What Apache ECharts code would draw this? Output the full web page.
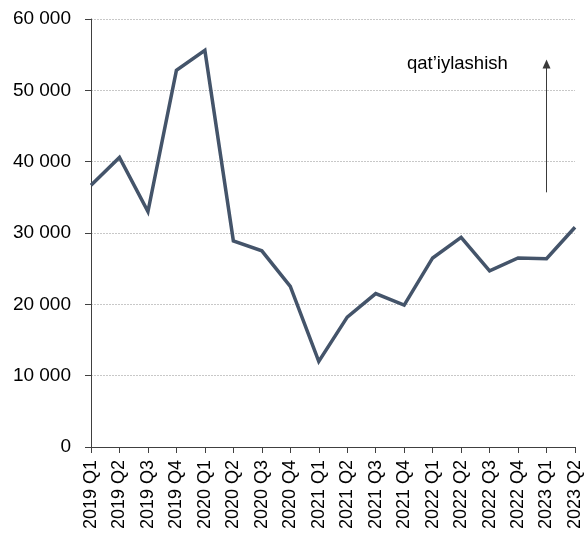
<!DOCTYPE html>
<html>
<head>
<meta charset="utf-8">
<script src="https://cdn.jsdelivr.net/npm/echarts@6/dist/echarts.min.js"></script>
<style>
  html, body { margin: 0; padding: 0; background: #ffffff; }
  #chart { width: 585px; height: 534px; }
</style>
</head>
<body>
<div id="chart"></div>
<script>
// Quarterly series, 2019 Q1 – 2023 Q2
const quarters = [
  '2019 Q1', '2019 Q2', '2019 Q3', '2019 Q4',
  '2020 Q1', '2020 Q2', '2020 Q3', '2020 Q4',
  '2021 Q1', '2021 Q2', '2021 Q3', '2021 Q4',
  '2022 Q1', '2022 Q2', '2022 Q3', '2022 Q4',
  '2023 Q1', '2023 Q2'
];
const values = [
  36700, 40600, 33000, 52800,
  55600, 28900, 27500, 22500,
  12000, 18200, 21500, 19900,
  26500, 29400, 24700, 26500,
  26400, 30800
];
const yTicks = { min: 0, max: 60000, step: 10000 };
const arrowNote = { label: 'qat’iylashish', at: '2023 Q1', from: 35700, to: 53700 };

const fontFamily = '"Liberation Sans", Arial, sans-serif';

function groupThousands(v) {
  return String(v).replace(/\B(?=(\d{3})+(?!\d))/g, ' ');
}

const chart = echarts.init(document.getElementById('chart'), null, { renderer: 'canvas' });

chart.setOption({
  animation: false,
  backgroundColor: '#ffffff',
  grid: { left: 91, right: 10, top: 19, bottom: 87, containLabel: false },
  xAxis: {
    type: 'category',
    data: quarters,
    boundaryGap: false,
    axisLine: { lineStyle: { color: '#404040', width: 1 } },
    axisTick: { show: true, alignWithLabel: true, length: 6, lineStyle: { color: '#404040' } },
    axisLabel: {
      rotate: 90,
      interval: 0,
      margin: 13,
      color: '#000000',
      fontSize: 18,
      fontFamily: fontFamily
    },
    splitLine: { show: false }
  },
  yAxis: {
    type: 'value',
    min: yTicks.min,
    max: yTicks.max,
    interval: yTicks.step,
    axisLine: { show: true, lineStyle: { color: '#404040', width: 1 } },
    axisTick: { show: true, length: 6, lineStyle: { color: '#404040' } },
    axisLabel: {
      margin: 20,
      color: '#000000',
      fontSize: 19,
      fontFamily: fontFamily,
      formatter: groupThousands
    },
    splitLine: { show: true, lineStyle: { color: '#c8c8c8', width: 1, type: [2, 1] } }
  },
  series: [
    {
      type: 'line',
      data: values,
      symbol: 'none',
      lineStyle: { color: '#44546a', width: 3.5, join: 'miter' },
      markLine: {
        silent: true,
        symbol: ['none', 'triangle'],
        symbolSize: [8, 9],
        lineStyle: { color: '#3a3a3a', width: 1, type: 'solid' },
        label: { show: false },
        data: [[
          { coord: [arrowNote.at, arrowNote.from] },
          { coord: [arrowNote.at, arrowNote.to] }
        ]]
      }
    }
  ],
  graphic: [
    {
      type: 'text',
      left: 407,
      top: 54,
      style: {
        text: arrowNote.label,
        fill: '#000000',
        font: '18.5px ' + fontFamily
      }
    }
  ]
});
</script>
</body>
</html>
